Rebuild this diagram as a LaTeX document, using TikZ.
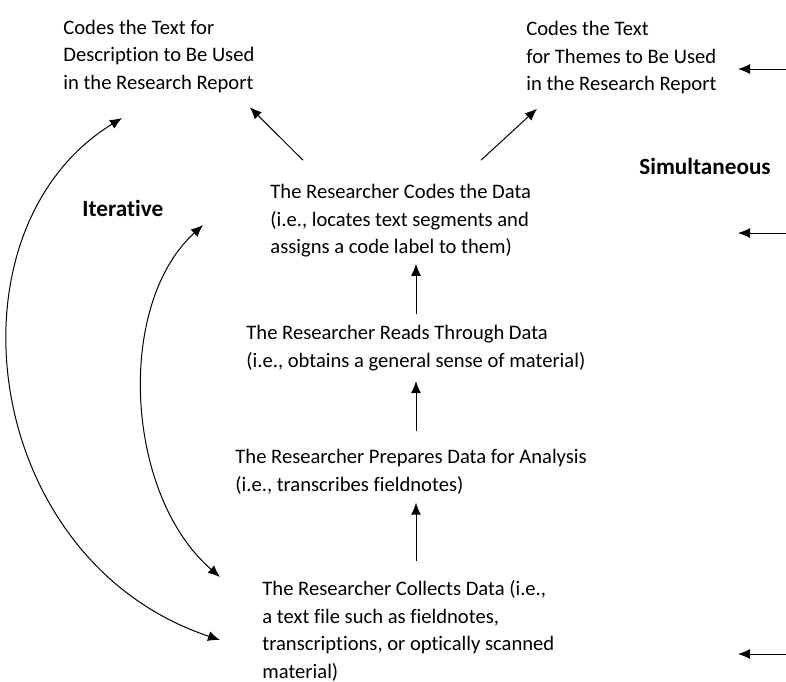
\documentclass[tikz,border=0pt]{standalone}
\usepackage{fontspec}
\setmainfont{Carlito}[Ligatures=NoCommon]
\usetikzlibrary{arrows.meta,calc}

\begin{document}
\begin{tikzpicture}[x=0.5pt,y=-0.5pt,
        stage/.style = {anchor=west,
            align=left,
            inner sep=0pt,
            font=\fontsize{10.3}{13.75}\selectfont},
        mode/.style = {anchor=west,
            inner sep=0pt,
            font=\fontsize{11.6}{13}\selectfont\bfseries},
        arr/.style = {-{Latex[length=6pt,width=5pt]}, line width=0.5pt},
        twoway/.style = {{Latex[length=6pt,width=5pt]}-{Latex[length=6pt,width=5pt]}, line width=0.5pt}]

        \useasboundingbox (0,0) rectangle (786,681);

        % Outcomes
        \node[stage] (desc) at (63,56.5) {Codes the Text for\\Description to Be Used\\in the Research Report};
        \node[stage] (themes) at (526,58) {Codes the Text\\for Themes to Be Used\\in the Research Report};

        % Steps
        \node[stage] (codes) at (270,221) {The Researcher Codes the Data\\(i.e., locates text segments and\\assigns a code label to them)};
        \node[stage] (reads) at (246,348) {The Researcher Reads Through Data\\(i.e., obtains a general sense of material)};
        \node[stage] (prep) at (235,472) {The Researcher Prepares Data for Analysis\\(i.e., transcribes fieldnotes)};
        \node[stage] (collect) at (262,631) {The Researcher Collects Data (i.e.,\\a text file such as fieldnotes,\\transcriptions, or optically scanned\\material)};

        % Labels
        \node[mode] (simul) at (639,166) {Simultaneous};
        \node[mode] (iter) at (82,208) {Iterative};

        % Upward arrows
        \coordinate (spine) at (416,0);
        \draw[arr, shorten <=9.5pt, shorten >=4pt] (collect.north -| spine) -- (prep.south -| spine);
        \draw[arr, shorten <=9pt, shorten >=5pt] (prep.north -| spine) -- (reads.south -| spine);
        \draw[arr, shorten <=5.5pt, shorten >=3pt] (reads.north -| spine) -- (codes.south -| spine);

        % To the outcomes
        \draw[arr] ($(codes.north west)+(33,-24)$) -- ($(desc.south east)+(-5,14)$);
        \draw[arr] ($(codes.north west)+(211,-24)$) -- ($(themes.south west)+(11,14)$);

        % Simultaneous arrows
        \coordinate (r1) at (786,69);
        \coordinate (r2) at (786,233);
        \coordinate (r3) at (786,654);
        \draw[arr] (r1) -- ++(-48,0);
        \draw[arr] (r2) -- ++(-48,0);
        \draw[arr] (r3) -- ++(-48,0);

        % Iterative loops
        \coordinate (outerTop) at (122,118);
        \coordinate (outerEnd) at (220,640);
        \coordinate (innerTop) at (203,225);
        \coordinate (innerEnd) at (220,577);
        \draw[twoway] (outerEnd) .. controls (-20,560) and (-60,230) .. (outerTop);
        \draw[twoway] (innerEnd) .. controls (125,495) and (115,305) .. (innerTop);

    \end{tikzpicture}
\end{document}
